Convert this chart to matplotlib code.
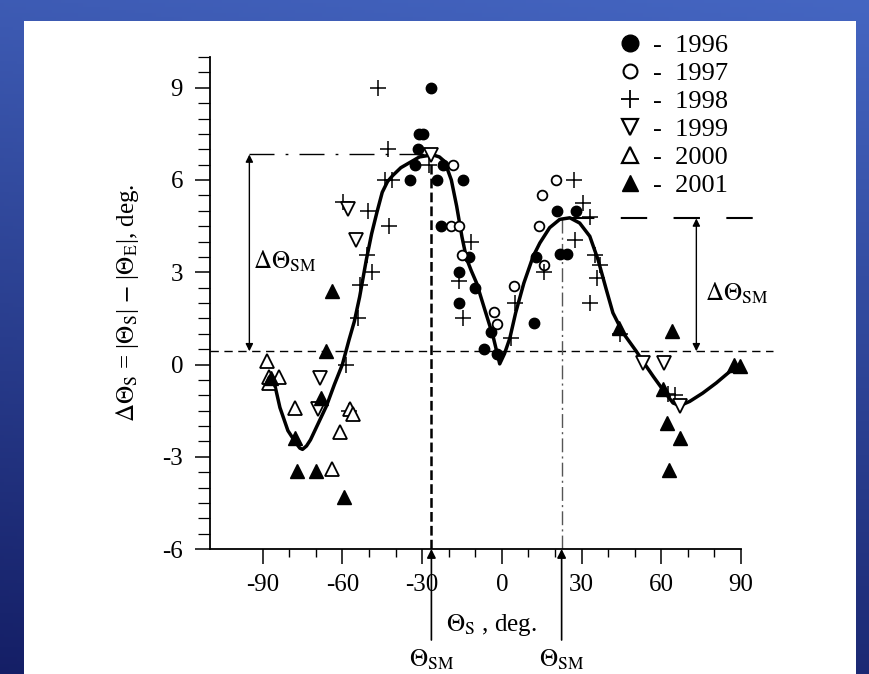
import matplotlib
matplotlib.use('Agg')
import matplotlib.pyplot as plt
import numpy as np
from matplotlib.patches import Rectangle
from matplotlib.lines import Line2D
from matplotlib.ticker import FixedLocator
import matplotlib.transforms as mtransforms

plt.rcParams['font.family'] = ['Liberation Serif', 'DejaVu Serif']
plt.rcParams['mathtext.fontset'] = 'stix'
plt.rcParams['axes.unicode_minus'] = False
plt.rcParams['lines.scale_dashes'] = False

# ---------------- data ----------------
x1996 = [-34.5, -32.5, -31.5, -31.0, -29.5, -26.5, -24.5, -22.0, -14.5, -23.0, -12.5,
         -16.0, -16.0, -10.0, -6.8, -4.0, -1.7, 12.0, 13.0, 20.8, 28.0, 22.0, 24.5]
y1996 = [6.0, 6.5, 7.0, 7.5, 7.5, 9.0, 6.0, 6.5, 6.0, 4.5, 3.5,
         3.0, 2.0, 2.5, 0.52, 1.05, 0.35, 1.35, 3.5, 5.0, 5.0, 3.6, 3.6]

x1997 = [-18.5, -19.0, -16.0, -14.8, -2.8, -2.0, 4.5, 15.8, 14.0, 15.0, 20.5]
y1997 = [6.5, 4.5, 4.5, 3.55, 1.72, 1.33, 2.55, 3.22, 4.5, 5.5, 6.0]

x1998 = [-58.5, -54.3, -53.5, -49.0, -50.7, -50.3, -59.8, -46.5, -42.8, -44.0, -41.5,
         -42.3, -27.5, -11.5, -16.3, -14.5, 3.6, 4.9, 15.8, 27.0, 30.5, 33.0, 27.5,
         35.0, 36.8, 36.0, 33.1, 44.3, 62.5, 65.0, -57.5]
y1998 = [0.0, 1.5, 2.6, 3.0, 3.55, 5.0, 5.3, 9.0, 7.0, 6.0, 6.0,
         4.5, 6.5, 4.0, 2.7, 1.5, 0.85, 2.0, 3.0, 6.0, 5.25, 4.8, 4.05,
         3.55, 3.25, 2.8, 2.0, 1.0, -0.95, -1.0, -1.5]

x1999 = [-58.0, -55.0, -68.3, -69.2, -26.5, 53.3, 61.0, 67.0]
y1999 = [5.05, 4.05, -0.45, -1.45, 6.8, 0.05, 0.05, -1.35]

x2000 = [-88.3, -87.7, -83.8, -87.6, -78.0, -64.0, -61.0, -57.2, -56.0]
y2000 = [0.1, -0.4, -0.4, -0.6, -1.4, -3.4, -2.2, -1.45, -1.6]

x2001 = [-87.0, -66.0, -64.0, -68.0, -78.0, -77.0, -70.0, -59.3, 44.0, 64.0,
         60.8, 62.0, 67.0, 63.0, 87.5, 89.5]
y2001 = [-0.45, 0.45, 2.4, -1.1, -2.4, -3.45, -3.45, -4.3, 1.2, 1.1,
         -0.8, -1.9, -2.4, -3.43, 0.0, -0.05]

curve_x = [-86, -83.5, -80.5, -77.5, -76, -75, -73.5, -72, -69, -66, -63, -60, -57.5,
           -55.5, -53.5, -51, -49, -47, -45, -43, -41, -38, -35, -31, -26, -23.5,
           -21.5, -19, -17, -15, -13.3, -11.5, -9.5, -6.4, -3.3, -0.8, 1, 3, 5.2,
           8.3, 11.8, 14.3, 18, 21.8, 25.6, 29.3, 33.1, 36.2, 39.3, 41.8, 45.6,
           50.6, 53.5, 57, 60.6, 64.4, 67, 70.7, 75.6, 80.7, 84.4, 88.2]
curve_y = [-0.45, -1.4, -2.15, -2.55, -2.72, -2.76, -2.65, -2.45, -1.9, -1.35, -0.65,
           0.0, 0.8, 1.4, 2.2, 3.4, 4.25, 4.95, 5.6, 5.95, 6.15, 6.4, 6.55, 6.75,
           6.82, 6.75, 6.6, 6.0, 5.15, 4.15, 3.45, 3.05, 2.65, 1.78, 0.92, 0.02,
           0.35, 0.85, 1.68, 2.65, 3.52, 3.95, 4.45, 4.72, 4.77, 4.6, 4.17, 3.41,
           2.44, 1.68, 1.03, 0.43, 0.05, -0.39, -0.82, -1.25, -1.34, -1.2, -0.93,
           -0.6, -0.33, -0.06]

years = ['1996', '1997', '1998', '1999', '2000', '2001']
theta_sm = [-26.5, 22.5]          # positions of the maxima
dtheta_base = 0.43                # reference level
dtheta_peak = [6.83, 4.75]        # heights of the maxima
dtheta_arrow_x = [-95.0, 73.2]    # x of the double arrows
x_ticks = [-90, -60, -30, 0, 30, 60, 90]
y_ticks = [-6, -3, 0, 3, 6, 9]

# ---------------- figure ----------------
W, H = 869, 674
fig = plt.figure(figsize=(W / 100, H / 100), dpi=100)

bg = fig.add_axes([0, 0, 1, 1], zorder=-10)
bg.set_axis_off()
yy, xx = np.mgrid[0:1:200j, 0:1:200j]
top = np.array([0.27, 0.40, 0.76])
bot = np.array([0.08, 0.12, 0.40])
t = np.clip(0.85 * yy + 0.15 * (1 - xx), 0, 1)[..., None]
grad = top * (1 - t) + bot * t
bg.imshow(grad, extent=[0, 1, 0, 1], aspect='auto', origin='upper')
bg.add_patch(Rectangle((24 / W, 0), (856 - 24) / W, (H - 21) / H,
                       facecolor='white', edgecolor='none'))
bg.set_xlim(0, 1)
bg.set_ylim(0, 1)

ax = fig.add_axes([209.5 / W, 1 - 549 / H, (741 - 209.5) / W, (549 - 57) / H])
ax.set_facecolor('white')
ax.set_xlim(-110, 90)
ax.set_ylim(-6, 10)
for s in ['top', 'right']:
    ax.spines[s].set_visible(False)
for s in ['left', 'bottom']:
    ax.spines[s].set_linewidth(1.3)

ax.xaxis.set_major_locator(FixedLocator(x_ticks))
ax.xaxis.set_minor_locator(FixedLocator([v for v in range(-80, 90, 10) if v % 30 != 0]))
ax.yaxis.set_major_locator(FixedLocator(y_ticks))
ax.yaxis.set_minor_locator(FixedLocator([v / 2 for v in range(-12, 21) if v % 6 != 0]))
ax.tick_params(axis='x', which='major', direction='out', length=11, width=1.1, pad=7, labelsize=18)
ax.tick_params(axis='x', which='minor', direction='out', length=6, width=1.0)
ax.tick_params(axis='y', which='major', direction='out', length=11, width=1.1, pad=8, labelsize=18)
ax.tick_params(axis='y', which='minor', direction='out', length=9, width=0.9)

# reference lines
ax.plot([-110, 102], [dtheta_base, dtheta_base], color='k', lw=1.0,
        ls=(0, (6, 4)), clip_on=False, zorder=2)
ax.plot([dtheta_arrow_x[0], theta_sm[0]], [dtheta_peak[0]] * 2, color='k', lw=1.0,
        ls=(0, (18, 8, 2, 8)), zorder=2)
ax.plot([theta_sm[1] + 2.5, 95.7], [dtheta_peak[1]] * 2, color='k', lw=1.5,
        ls=(0, (19, 19)), clip_on=False, zorder=2)
ax.plot([theta_sm[0]] * 2, [-6, dtheta_peak[0]], color='k', lw=1.8,
        ls=(0, (7, 3)), zorder=2)
ax.plot([theta_sm[1]] * 2, [-6, dtheta_peak[1]], color='#555555', lw=1.0,
        ls=(0, (10, 3, 1.5, 3)), zorder=2)

for xa, yp in zip(dtheta_arrow_x, dtheta_peak):
    ax.annotate('', xy=(xa, yp), xytext=(xa, dtheta_base),
                arrowprops=dict(arrowstyle='<|-|>', lw=1.0, color='k',
                                mutation_scale=11, shrinkA=0, shrinkB=0),
                annotation_clip=False)
ax.text(-93.5, 3.35, r'$\Delta\Theta_{\rm SM}$', fontsize=18, ha='left', va='center')
ax.text(76.3, 2.33, r'$\Delta\Theta_{\rm SM}$', fontsize=18, ha='left', va='center',
        clip_on=False)

trans = mtransforms.blended_transform_factory(ax.transData, ax.transAxes)
for xs in theta_sm:
    ax.annotate('', xy=(xs, 0), xycoords=trans, xytext=(xs, -0.185), textcoords=trans,
                arrowprops=dict(arrowstyle='-|>', lw=1.2, color='k',
                                mutation_scale=13, shrinkA=0, shrinkB=0),
                annotation_clip=False)
    ax.text(xs, -0.225, r'$\Theta_{\rm SM}$', transform=trans, fontsize=18,
            ha='center', va='center')

# fitted curve
ax.plot(curve_x, curve_y, color='k', lw=2.5, solid_joinstyle='round', zorder=3)

# data series
kw = dict(ls='none', clip_on=False, zorder=4)
h96, = ax.plot(x1996, y1996, marker='o', ms=7.5, mfc='k', mec='k', **kw)
h97, = ax.plot(x1997, y1997, marker='o', ms=7.0, mfc='white', mec='k', mew=1.3, **kw)
h98, = ax.plot(x1998, y1998, marker='+', ms=12, mew=1.1, color='k', **kw)
h99, = ax.plot(x1999, y1999, marker='v', ms=10, mfc='white', mec='k', mew=1.3, **kw)
h00, = ax.plot(x2000, y2000, marker='^', ms=10, mfc='white', mec='k', mew=1.3, **kw)
h01, = ax.plot(x2001, y2001, marker='^', ms=10, mfc='k', mec='k', **kw)

# axis labels
ax.set_xlabel(r'$\Theta_{\rm S}$ , deg.', fontsize=18)
ax.xaxis.set_label_coords(0.53, -0.155)
ax.xaxis.label.set_va('center')
ax.set_ylabel(r'$\Delta\Theta_{\rm S}$ = |$\Theta_{\rm S}$| $-$ |$\Theta_{\rm E}$|, deg.',
              fontsize=18)
ax.yaxis.set_label_coords(-0.155, 0.5)
ax.yaxis.label.set_va('center')

# legend (larger proxy markers)
proxies = [
    Line2D([], [], ls='none', marker='o', ms=12, mfc='k', mec='k'),
    Line2D([], [], ls='none', marker='o', ms=10, mfc='white', mec='k', mew=1.5),
    Line2D([], [], ls='none', marker='+', ms=13, mew=1.3, color='k'),
    Line2D([], [], ls='none', marker='v', ms=11, mfc='white', mec='k', mew=1.6),
    Line2D([], [], ls='none', marker='^', ms=11, mfc='white', mec='k', mew=1.6),
    Line2D([], [], ls='none', marker='^', ms=11, mfc='k', mec='k'),
]
fig.legend(proxies, ['-  ' + y for y in years], loc='upper left',
           bbox_to_anchor=(617 / W, 1 - 34 / H), frameon=False, fontsize=19,
           handlelength=1.0, handletextpad=0.35, labelspacing=0.17,
           borderpad=0, borderaxespad=0)

fig.savefig('out.png', dpi=100)
